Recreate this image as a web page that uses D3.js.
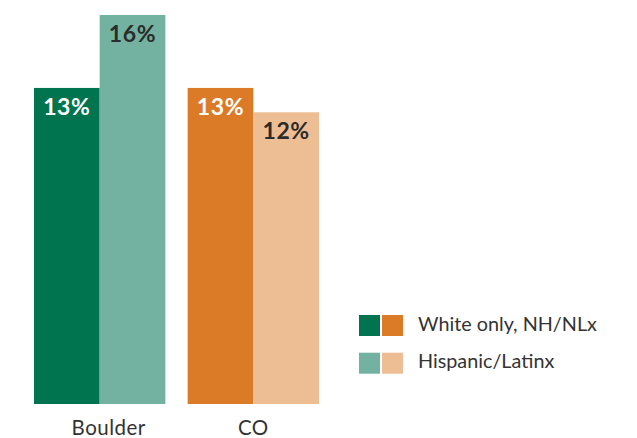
<!DOCTYPE html>
<html>
<head>
<meta charset="utf-8">
<script src="https://cdn.jsdelivr.net/npm/d3@7"></script>
<style>
  html, body { margin: 0; padding: 0; background: #fff; }
  svg { display: block; font-family: Lato, "Noto Sans", sans-serif; }
</style>
</head>
<body>
<svg id="chart" width="637" height="438"></svg>
<script>
// Share of residents, by place and group
const places = ["Boulder", "CO"];
const groups = ["White only, NH/NLx", "Hispanic/Latinx"];
const whiteOnly = [13, 13];
const hispanic = [16, 12];
const valueLabels = [["13%", "16%"], ["13%", "12%"]];

// Each place has its own pair of colours (dark = White only, light = Hispanic/Latinx)
const palette = {
  "Boulder": ["#00734f", "#73b2a1"],
  "CO": ["#db7b27", "#edbe93"]
};
const labelColors = ["#ffffff", "#2b2b2b"];

const svg = d3.select("#chart");

const x = d3.scaleBand().domain(places).range([34, 319]).paddingInner(0.145).paddingOuter(0);
const xInner = d3.scaleBand().domain(groups).range([0, x.bandwidth()]).padding(0);
const y = d3.scaleLinear().domain([0, 16]).range([404, 15]);

const rows = places.map((p, i) => ({
  place: p,
  values: [
    { group: groups[0], value: whiteOnly[i], label: valueLabels[i][0], k: 0 },
    { group: groups[1], value: hispanic[i], label: valueLabels[i][1], k: 1 }
  ]
}));

const g = svg.selectAll("g.place").data(rows).join("g")
  .attr("class", "place")
  .attr("transform", d => `translate(${x(d.place)},0)`);

g.selectAll("rect").data(d => d.values.map(v => ({ ...v, place: d.place }))).join("rect")
  .attr("x", d => xInner(d.group))
  .attr("y", d => y(d.value))
  .attr("width", xInner.bandwidth())
  .attr("height", d => y(0) - y(d.value))
  .attr("fill", d => palette[d.place][d.k]);

g.selectAll("text.val").data(d => d.values).join("text")
  .attr("class", "val")
  .attr("x", d => xInner(d.group) + xInner.bandwidth() / 2)
  .attr("y", d => y(d.value) + 27)
  .attr("text-anchor", "middle")
  .attr("font-size", 23)
  .attr("font-weight", 700)
  .attr("letter-spacing", 0.6)
  .attr("fill", d => labelColors[d.k])
  .text(d => d.label);

// Category labels under the bars
const xAxis = d3.axisBottom(x).tickSize(0).tickPadding(0);
const axisG = svg.append("g").attr("transform", `translate(0,${y(0)})`).call(xAxis);
axisG.select(".domain").remove();
axisG.selectAll("text")
  .attr("dy", 0)
  .attr("y", 31)
  .attr("dx", d => d === "Boulder" ? 9 : 0)
  .attr("font-size", 20.5)
  .attr("letter-spacing", 0.5)
  .attr("font-family", "Lato, 'Noto Sans', sans-serif")
  .attr("fill", "#333");

// Legend: one row per group, a swatch for each place
const legend = svg.append("g").attr("transform", "translate(359,315)");
const lrow = legend.selectAll("g").data(groups).join("g")
  .attr("transform", (d, i) => `translate(0,${i * 37.7})`);
lrow.selectAll("rect").data((d, i) => places.map(p => palette[p][i])).join("rect")
  .attr("x", (d, j) => j * 23)
  .attr("y", 0)
  .attr("width", 21)
  .attr("height", 21)
  .attr("fill", d => d);
lrow.append("text")
  .attr("x", 59)
  .attr("y", 15.5)
  .attr("font-size", 19.8)
  .attr("fill", "#333")
  .text(d => d);
</script>
</body>
</html>
